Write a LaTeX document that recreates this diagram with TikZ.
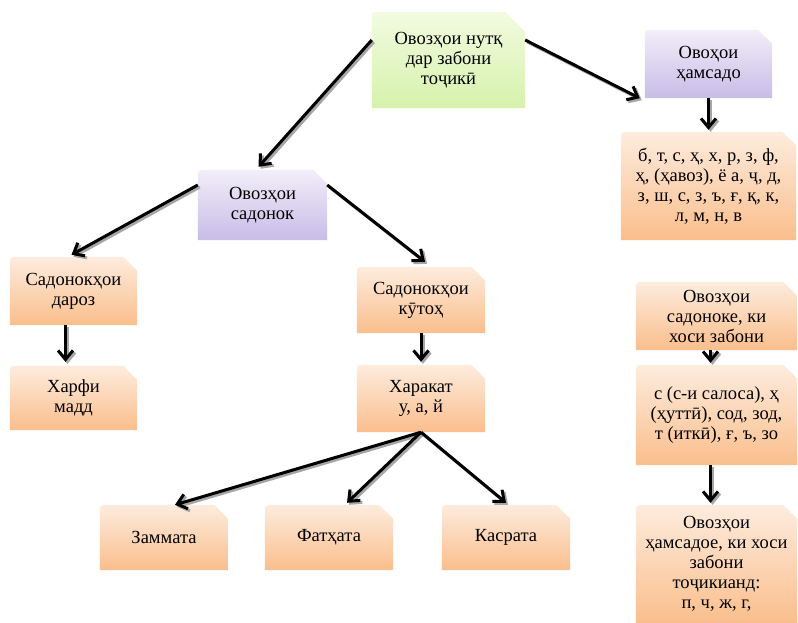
\documentclass[tikz,border=0pt]{standalone}
\usepackage{fontspec}
\setmainfont{Liberation Serif}
\newfontfamily\tajserif{Liberation Serif}
\usetikzlibrary{arrows.meta,backgrounds,calc}
\definecolor{orTop}{RGB}{253,236,222}
\definecolor{orBot}{RGB}{250,190,140}
\definecolor{puTop}{RGB}{242,238,249}
\definecolor{puBot}{RGB}{200,188,231}
\definecolor{grTop}{RGB}{242,251,224}
\definecolor{grBot}{RGB}{214,242,172}
\newcommand\snipbox[4]{%
  \shade[top color=#2,bottom color=#3] (#1.south west) -- ([yshift=-9pt]#1.north west)
    .. controls (#1.north west) .. ([xshift=9pt]#1.north west)
    -- ([xshift=-#4]#1.north east) -- ([yshift=-#4]#1.north east) -- (#1.south east) -- cycle;}
\tikzset{
  box/.style={inner sep=0pt, align=center, font=\tajserif\fontsize{18.5}{20}\selectfont},
  arr/.style={line width=3pt, -{Straight Barb[length=9pt,width=15pt]},
    preaction={draw=black!35, line width=3pt, transform canvas={xshift=2pt,yshift=-2pt}}}
}
\begin{document}
\begin{tikzpicture}[x=1pt,y=-1pt]
\useasboundingbox (0,0) rectangle (798,623);
\node[box, minimum width=153pt, minimum height=96pt] (n1) at (448.5,60) {Овозҳои нутқ\\дар забони\\тоҷикӣ};
\node[box, minimum width=127pt, minimum height=68pt] (n2) at (708.5,64) {Овоҳои\\ҳамсадо};
\node[box, minimum width=175pt, minimum height=108pt] (n3) at (708.5,186) {б, т, с, ҳ, х, р, з, ф,\\ҳ, (ҳавоз), ё а, ҷ, д,\\з, ш, с, з, ъ, ғ, қ, к,\\л, м, н, в};
\node[box, minimum width=129pt, minimum height=70pt] (n4) at (262.5,205) {Овозҳои\\садонок};
\node[box, minimum width=127pt, minimum height=68pt] (n5) at (73.5,291) {Садонокҳои\\дароз};
\node[box, minimum width=127pt, minimum height=64pt] (n6) at (73.5,398) {Харфи\\мадд};
\node[box, minimum width=128pt, minimum height=66pt] (n7) at (421,300) {Садонокҳои\\кӯтоҳ};
\node[box, minimum width=128pt, minimum height=67pt] (n8) at (421,398.5) {Харакат\\у, а, й};
\node[box, minimum width=128pt, minimum height=65pt] (n9) at (164,537.5) {Заммата};
\node[box, minimum width=128pt, minimum height=65pt] (n10) at (329,537.5) {Фатҳата};
\node[box, minimum width=128pt, minimum height=65pt] (n11) at (506,537.5) {Касрата};
\node[box, minimum width=161pt, minimum height=68pt] (n12) at (716.5,316) {Овозҳои\\садоноке, ки\\хоси забони};
\node[box, minimum width=161pt, minimum height=100pt] (n13) at (716.5,415) {с (с-и салоса), ҳ\\(ҳуттӣ), сод, зод,\\т (иткӣ), ғ, ъ, зо};
\node[box, minimum width=161pt, minimum height=118pt] (n14) at (716.5,564) {Овозҳои\\ҳамсадое, ки хоси\\забони\\тоҷикианд:\\п, ч, ж, г,};
\begin{pgfonlayer}{background}
\snipbox{n1}{grTop}{grBot}{20pt}
\snipbox{n2}{puTop}{puBot}{14pt}
\snipbox{n3}{orTop}{orBot}{14pt}
\snipbox{n4}{puTop}{puBot}{14pt}
\snipbox{n5}{orTop}{orBot}{14pt}
\snipbox{n6}{orTop}{orBot}{14pt}
\snipbox{n7}{orTop}{orBot}{14pt}
\snipbox{n8}{orTop}{orBot}{14pt}
\snipbox{n9}{orTop}{orBot}{14pt}
\snipbox{n10}{orTop}{orBot}{14pt}
\snipbox{n11}{orTop}{orBot}{14pt}
\snipbox{n12}{orTop}{orBot}{14pt}
\snipbox{n13}{orTop}{orBot}{14pt}
\snipbox{n14}{orTop}{orBot}{14pt}
\end{pgfonlayer}
\draw[arr] ([yshift=20pt]n1.west) -- ([xshift=-4pt,yshift=3pt]n4.north);
\draw[arr] ([yshift=20pt]n1.east) -- ([xshift=-5pt]n2.south west);
\draw[arr] (n2.south) -- ([yshift=2pt]n3.north);
\draw[arr] ([yshift=20pt]n4.west) -- ([xshift=-2pt,yshift=2pt]n5.north);
\draw[arr] ([yshift=20pt]n4.east) -- ([xshift=4pt,yshift=5pt]n7.north);
\draw[arr] ([xshift=-8pt]n5.south) -- ([xshift=-8pt,yshift=4pt]n6.north);
\draw[arr] (n7.south) -- ([yshift=3pt]n8.north);
\draw[arr] (n8.south) -- ([xshift=11pt]n9.north);
\draw[arr] (n8.south) -- ([xshift=18pt,yshift=2pt]n10.north);
\draw[arr] (n8.south) -- ([yshift=2pt]n11.north);
\draw[arr] ([xshift=-6pt]n12.south) -- ([xshift=-6pt,yshift=2pt]n13.north);
\draw[arr] ([xshift=-6pt]n13.south) -- ([xshift=-6pt,yshift=2pt]n14.north);
\end{tikzpicture}
\end{document}
